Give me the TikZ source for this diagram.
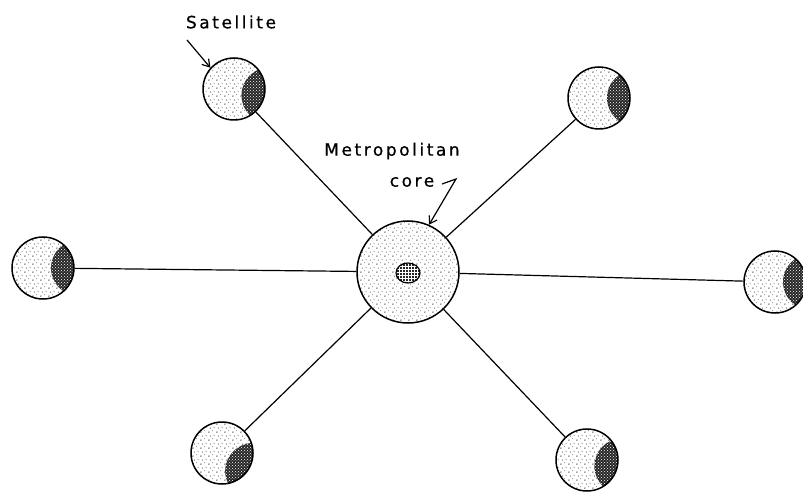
\documentclass[tikz,border=0pt]{standalone}
\usepackage{fontspec}
\newfontfamily\letterfont{DejaVu Sans}[LetterSpace=15,FakeBold=0.6]
\usetikzlibrary{arrows.meta,patterns,patterns.meta,shapes.geometric}

\tikzdeclarepattern{
  name=stipple, type=uncolored,
  bounding box={(0pt,0pt) and (8pt,8pt)}, tile size={(8pt,8pt)},
  code={
    \fill (1pt,1pt) circle (0.8pt);
    \fill (5pt,2.5pt) circle (0.5pt);
    \fill (2.8pt,5.5pt) circle (0.6pt);
    \fill (6.8pt,6.4pt) circle (0.45pt);
  }
}

\begin{document}
\begin{tikzpicture}[x=1pt,y=-1pt,
  satellite/.style={circle, draw, line width=1.5pt, minimum size=62pt, inner sep=0pt,
    pattern=stipple, pattern color=black!80,
    path picture={
      \fill[black!85] ([shift={(#1:36pt)}]path picture bounding box.center) circle (28pt);
      \fill[pattern=crosshatch dots, pattern color=white] ([shift={(#1:36pt)}]path picture bounding box.center) circle (28pt);
    }},
  satellite/.default=0,
  spoke/.style={line width=1.2pt},
  pointer/.style={line width=1.2pt, -{Straight Barb[length=7pt,width=9pt]}},
  lettering/.style={font=\letterfont\fontsize{17}{20}\selectfont, inner sep=0pt}]
\useasboundingbox (0,0) rectangle (803,497);
% core and its hub
\node[circle, draw, line width=1.5pt, minimum size=102pt, inner sep=0pt,
  pattern=stipple, pattern color=black!80] (core) at (408,272) {};
\node[ellipse, draw, line width=1.2pt, minimum width=24pt, minimum height=20pt, inner sep=0pt,
  preaction={fill=black!85}, pattern=grid, pattern color=white] (hub) at (408,273) {};
% satellites
\node[satellite=-10] (tl) at (234,89) {};
\node[satellite=0] (tr) at (599,98) {};
\node[satellite=0] (l) at (43,268) {};
\node[satellite=0] (r) at (775,282) {};
\node[satellite=-30] (bl) at (222,453) {};
\node[satellite=-10] (br) at (587,460) {};
\draw[spoke] (core) -- (tl);
\draw[spoke] (core) -- (tr);
\draw[spoke] (core) -- (l);
\draw[spoke] (core) -- (r);
\draw[spoke] (core) -- (bl);
\draw[spoke] (core) -- (br);
% labels
\node[lettering] (satlabel) at (231,22) {Satellite};
\node[lettering] (metro) at (392,151) {Metropolitan};
\node[lettering] (corelabel) at (412,182) {core};
\coordinate (satfrom) at (187,40);
\draw[pointer] (satfrom) -- (tl.138);
\coordinate (corefrom) at (442,184);
\coordinate (corebend) at (456,179);
\draw[pointer] (corefrom) -- (corebend) -- (core.66);
\end{tikzpicture}
\end{document}
